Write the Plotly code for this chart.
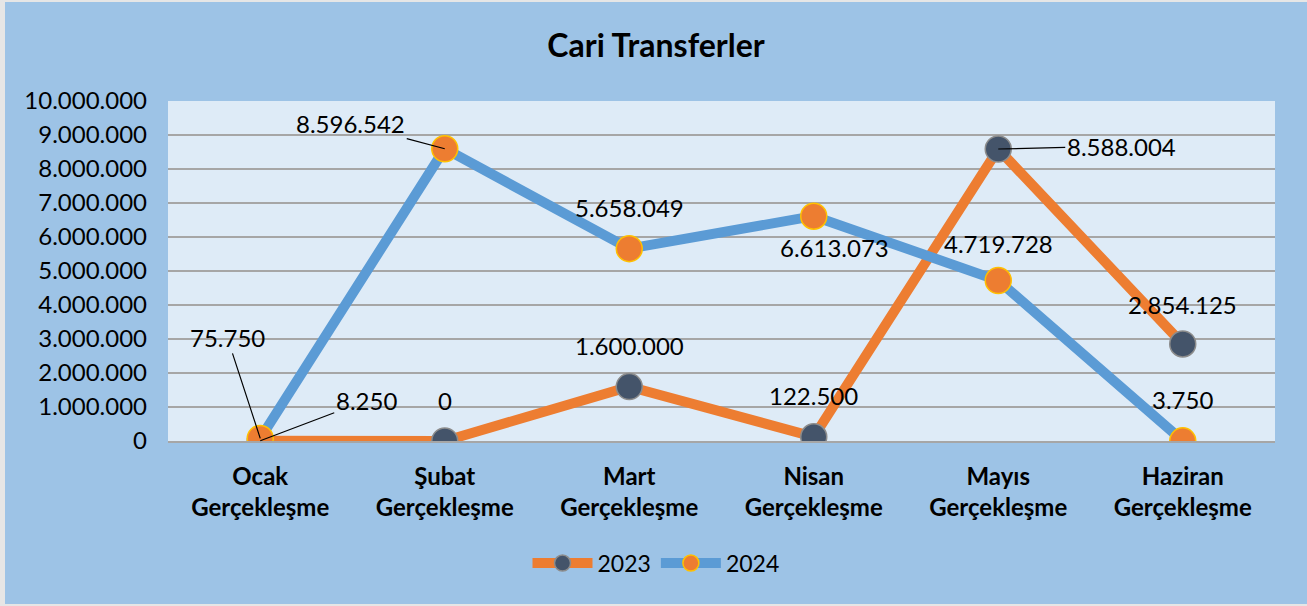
import plotly.graph_objects as go

categories = ["Ocak<br>Gerçekleşme", "Şubat<br>Gerçekleşme", "Mart<br>Gerçekleşme",
              "Nisan<br>Gerçekleşme", "Mayıs<br>Gerçekleşme", "Haziran<br>Gerçekleşme"]
values_2023 = [8250, 0, 1600000, 122500, 8588004, 2854125]
values_2024 = [75750, 8596542, 5658049, 6613073, 4719728, 3750]
y_ticks = list(range(0, 10000001, 1000000))


def tr_fmt(v):
    # 1.234.567 style thousands separator
    return f"{v:,}".replace(",", ".")


FONT = "Lato, 'Open Sans', sans-serif"
LABEL_FONT = dict(size=24, color="black", family=FONT)

fig = go.Figure()

fig.add_trace(go.Scatter(
    x=categories, y=values_2023, name="2023", mode="lines+markers",
    line=dict(color="#ED7D31", width=10),
    marker=dict(size=26, color="#44546A", line=dict(color="#8C8C8C", width=1.5)),
))
fig.add_trace(go.Scatter(
    x=categories, y=values_2024, name="2024", mode="lines+markers",
    line=dict(color="#5B9BD5", width=10),
    marker=dict(size=26, color="#ED7D31", line=dict(color="#FFC000", width=1.5)),
))

# label placement per point: (x offset px, y offset px, leader line?)
# offsets are up-positive for plain labels, screen-style for leader labels
label_pos_2023 = [(106, -40, True), (0, 41, False), (0, 41, False),
                  (0, 41, False), (123, -3, True), (0, 39, False)]
label_pos_2024 = [(-33, -101, True), (-94, -25, True), (0, 41, False),
                  (21, -31, False), (0, 37, False), (0, 41, False)]

for vals, pos in ((values_2023, label_pos_2023), (values_2024, label_pos_2024)):
    for i, (v, (dx, dy, leader)) in enumerate(zip(vals, pos)):
        txt = tr_fmt(v)
        if leader:
            fig.add_annotation(
                x=categories[i], y=v, text=txt, showarrow=True,
                arrowhead=0, arrowwidth=1.2, arrowcolor="black",
                ax=dx, ay=dy, standoff=0, font=LABEL_FONT,
            )
        else:
            fig.add_annotation(
                x=categories[i], y=v, text=txt, showarrow=False,
                xshift=dx, yshift=dy, font=LABEL_FONT,
            )

fig.update_layout(
    width=1302, height=602,
    paper_bgcolor="#9DC3E6",
    plot_bgcolor="#DEEBF7",
    margin=dict(l=163, r=32, t=99, b=163),
    title=dict(text="<b>Cari Transferler</b>", x=0.5, xanchor="center",
               y=0.927, yanchor="middle",
               font=dict(size=32, color="black", family=FONT)),
    font=dict(family=FONT, color="black"),
    showlegend=True,
    legend=dict(orientation="h", xref="container", yref="container",
                x=0.5, xanchor="center", y=0.068, yanchor="middle",
                font=dict(size=23, color="black", family=FONT),
                bgcolor="rgba(0,0,0,0)", itemwidth=60),
)

fig.update_xaxes(
    range=[-0.5, 5.5], showgrid=False, showline=True, linecolor="#A6A6A6",
    linewidth=2, tickfont=dict(size=24, family=FONT, color="black"),
    ticks="", tickprefix="<b>", ticksuffix="</b>", ticklabelstandoff=13,
)
fig.update_yaxes(
    range=[0, 10000000], tickvals=y_ticks, ticktext=[tr_fmt(t) for t in y_ticks],
    showgrid=True, gridcolor="#A6A6A6", gridwidth=2, zeroline=False,
    showline=False, tickfont=dict(size=24, family=FONT, color="black"),
    ticks="", ticklabelstandoff=20,
)

# light grey page edge round the chart, as in the original screenshot
fig.write_html(
    "out.html",
    post_script="document.body.style.margin='2px 0 0 5px';"
                "document.body.style.background='#E6E6E6';"
                "document.body.style.overflow='hidden';",
)
